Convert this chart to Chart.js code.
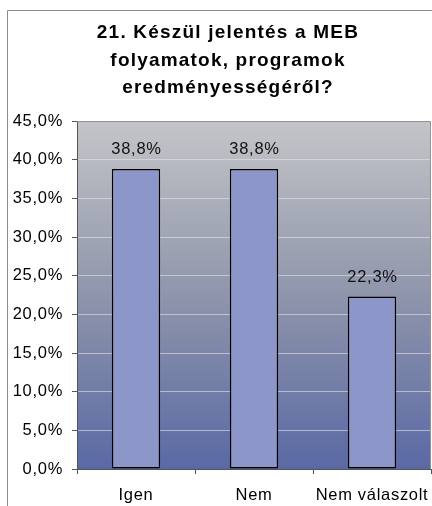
<!DOCTYPE html>
<html>
<head>
<meta charset="utf-8">
<script src="https://cdn.jsdelivr.net/npm/chart.js@4"></script>
<style>
  html, body { margin: 0; padding: 0; background: #fff; overflow: hidden; }
  #wrap { width: 456px; height: 506px; }
</style>
</head>
<body>
<div id="wrap"><canvas id="chart" width="456" height="506"></canvas></div>
<script>
// adatok
const categories = ["Igen", "Nem", "Nem válaszolt"];
const values = [38.8, 38.8, 22.3];
const titleLines = ["21. Készül jelentés a MEB", "folyamatok, programok", "eredményességéről?"];

const pct = v => v.toFixed(1).replace('.', ',') + '%';
const FONT = '"Liberation Sans", Arial, sans-serif';

// hatter, keret, plot szegely, betukoz
const decor = {
  id: 'decor',
  beforeDraw(chart) {
    const ctx = chart.ctx;
    const a = chart.chartArea;
    // az Excel-es szoveg kicsit ritkabb
    ctx.letterSpacing = '0.7px';
    const tb = chart.titleBlock;
    if (tb && !tb._spaced) {
      const orig = tb.draw.bind(tb);
      tb.draw = function (area) {
        const prev = this.ctx.letterSpacing;
        this.ctx.letterSpacing = '1.2px';
        orig(area);
        this.ctx.letterSpacing = prev;
      };
      tb._spaced = true;
    }
    ctx.save();
    ctx.fillStyle = '#fff';
    ctx.fillRect(0, 0, chart.width, chart.height);
    // kulso keret
    ctx.strokeStyle = '#8a8a8a';
    ctx.lineWidth = 1;
    ctx.beginPath();
    ctx.moveTo(7.5, chart.height);
    ctx.lineTo(7.5, 10.5);
    ctx.lineTo(chart.width, 10.5);
    ctx.stroke();
    // plot hatter
    const g = ctx.createLinearGradient(0, a.top, 0, a.bottom);
    g.addColorStop(0, '#c3c5c7');
    g.addColorStop(0.5, '#8f95ab');
    g.addColorStop(1, '#5a69a5');
    ctx.fillStyle = g;
    ctx.fillRect(a.left, a.top, a.right - a.left, a.bottom - a.top);
    ctx.restore();
  },
  afterDraw(chart) {
    const ctx = chart.ctx;
    const a = chart.chartArea;
    ctx.save();
    ctx.strokeStyle = '#8e9494';
    ctx.lineWidth = 1;
    ctx.beginPath();
    ctx.moveTo(a.left, a.top + 0.5);
    ctx.lineTo(a.right - 0.5, a.top + 0.5);
    ctx.lineTo(a.right - 0.5, a.bottom);
    ctx.stroke();
    // ertekcimkek
    ctx.letterSpacing = '0.7px';
    ctx.fillStyle = '#111';
    ctx.font = '16.5px ' + FONT;
    ctx.textAlign = 'center';
    ctx.textBaseline = 'alphabetic';
    chart.getDatasetMeta(0).data.forEach((bar, i) => {
      ctx.fillText(pct(values[i]), bar.x + 0.5, bar.y - 14.5);
    });
    ctx.restore();
  }
};

const chart = new Chart(document.getElementById('chart'), {
  type: 'bar',
  data: {
    labels: categories,
    datasets: [{
      data: values,
      backgroundColor: '#8c96c9',
      borderColor: '#000',
      borderWidth: 1.5,
      borderSkipped: false,
      barPercentage: 0.41,
      categoryPercentage: 1
    }]
  },
  options: {
    responsive: false,
    animation: false,
    layout: { padding: 0 },
    plugins: {
      legend: { display: false },
      tooltip: { enabled: false },
      title: {
        display: true,
        text: titleLines,
        color: '#000',
        font: { family: FONT, size: 19, weight: 'bold', lineHeight: 1.45 },
        padding: { top: 19, bottom: 19.4 }
      }
    },
    scales: {
      x: {
        grid: { drawOnChartArea: false, tickLength: 5, tickColor: '#555', offset: true },
        border: { color: '#555' },
        ticks: {
          color: '#000',
          padding: 12,
          maxRotation: 0,
          font: { family: FONT, size: 16.5 }
        },
        afterFit(s) { s.height = 37; }
      },
      y: {
        min: 0,
        max: 45,
        grid: {
          tickLength: 5,
          tickColor: '#555',
          color: ctx => (ctx.tick && (ctx.tick.value === 0 || ctx.tick.value === 45)) ? 'rgba(0,0,0,0)' : 'rgba(228,228,232,0.6)'
        },
        border: { color: '#555' },
        ticks: {
          stepSize: 5,
          color: '#000',
          padding: 9,
          font: { family: FONT, size: 16.5 },
          callback: v => pct(v)
        },
        afterFit(s) { s.width = 77; }
      },
      y2: {
        position: 'right',
        display: true,
        grid: { display: false },
        border: { display: false },
        ticks: { display: false },
        afterFit(s) { s.width = 25; }
      }
    }
  },
  plugins: [decor]
});
chart.draw();
</script>
</body>
</html>
